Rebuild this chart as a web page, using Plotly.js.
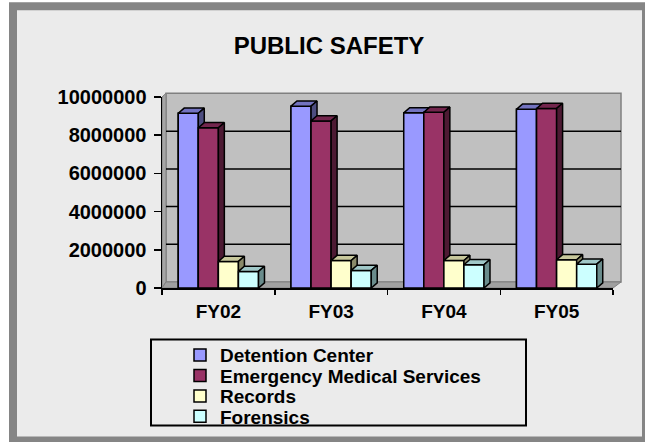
<!DOCTYPE html>
<html>
<head>
<meta charset="utf-8">
<script src="https://cdn.plot.ly/plotly-3.0.1.min.js"></script>
<style>html,body{margin:0;padding:0;background:#fff;}#chart{width:645px;height:442px;}</style>
</head>
<body>
<div id="chart"></div>
<script>
// ---- data ----
const categories = ['FY02', 'FY03', 'FY04', 'FY05'];
const seriesNames = ['Detention Center', 'Emergency Medical Services', 'Records', 'Forensics'];
const detention = [9150000, 9520000, 9170000, 9360000];
const ems = [8390000, 8750000, 9200000, 9400000];
const records = [1390000, 1440000, 1440000, 1480000];
const forensics = [870000, 920000, 1220000, 1250000];
const yTicks = [0, 2000000, 4000000, 6000000, 8000000, 10000000];

// ---- style ----
const FONT = 'Liberation Sans, Arial, sans-serif';
const values = [detention, ems, records, forensics];
const fronts = ['#9999ff', '#993366', '#ffffcc', '#ccffff'];
const tops = ['#7373c0', '#73264d', '#c8c89c', '#a0c8c8'];
const sides = ['#4d4d80', '#4d1a33', '#8a8a6a', '#6a8c8c'];
const W = 0.178;      // bar width (x units)
const DX = 0.053;     // depth, x units
const DY = 270000;    // depth, y units
const legendIds = ['legend', 'legend2', 'legend3', 'legend4'];
const legendRowY = [355.5, 376, 396.5, 417];

const traces = [];
values.forEach((vals, s) => {
  traces.push({
    type: 'bar', name: seriesNames[s], legend: legendIds[s],
    x: categories.map((c, i) => i + (s - 1.5) * W), y: vals, width: W,
    marker: {color: fronts[s], line: {color: '#000', width: 1.5}},
    hoverinfo: 'skip'
  });
});
values.forEach((vals, s) => {
  const f = {x: [], y: []}, t = {x: [], y: []}, d = {x: [], y: []};
  vals.forEach((v, i) => {
    const x0 = i + (s - 2) * W, x1 = x0 + W;
    f.x.push(x0, x1, x1, x0, x0, null); f.y.push(0, 0, v, v, 0, null);
    t.x.push(x0, x1, x1 + DX, x0 + DX, x0, null); t.y.push(v, v, v + DY, v + DY, v, null);
    d.x.push(x1, x1 + DX, x1 + DX, x1, x1, null); d.y.push(0, DY, v + DY, v, 0, null);
  });
  [[f, fronts[s]], [t, tops[s]], [d, sides[s]]].forEach(([p, col]) => {
    traces.push({
      type: 'scatter', mode: 'lines', x: p.x, y: p.y, fill: 'toself', fillcolor: col,
      line: {color: '#000', width: 1.5}, showlegend: false, hoverinfo: 'skip', connectgaps: false
    });
  });
});

// pixel -> paper helpers for decoration
const PL = 162, PR = 613, PT = 97, PB = 288.3;
const px = X => (X - PL) / (PR - PL);
const py = Y => (PB - Y) / (PB - PT);

const shapes = [
  {type: 'rect', xref: 'paper', yref: 'paper', x0: px(9), x1: px(660), y0: py(460), y1: py(2), fillcolor: '#858585', line: {width: 0}, layer: 'below'},
  {type: 'rect', xref: 'paper', yref: 'paper', x0: px(17), x1: px(642), y0: py(437), y1: py(10), fillcolor: '#ebebeb', line: {width: 0}, layer: 'below'},
  // back wall
  {type: 'rect', xref: 'paper', yref: 'paper', x0: px(166), x1: px(621), y0: py(282.3), y1: py(93.3), fillcolor: '#c0c0c0', line: {color: '#808080', width: 1.5}, layer: 'below'},
  // left wall
  {type: 'path', xref: 'paper', yref: 'paper', path: `M ${px(162)} ${py(288.3)} L ${px(166)} ${py(282.3)} L ${px(166)} ${py(93.3)} L ${px(162)} ${py(97)} Z`, fillcolor: '#a6a6a6', line: {color: '#808080', width: 1}, layer: 'below'},
  // floor
  {type: 'path', xref: 'paper', yref: 'paper', path: `M ${px(162)} ${py(288.3)} L ${px(613)} ${py(288.3)} L ${px(621)} ${py(282.3)} L ${px(166)} ${py(282.3)} Z`, fillcolor: '#a0a0a0', line: {color: '#808080', width: 1}, layer: 'below'},
  // legend box
  {type: 'rect', xref: 'paper', yref: 'paper', x0: px(151), x1: px(526), y0: py(426), y1: py(340), fillcolor: 'rgba(0,0,0,0)', line: {color: '#000', width: 2}, layer: 'below'}
];
yTicks.slice(1, -1).forEach(v => {
  const off = 6 - 2.5 * v / 10000000;
  shapes.push({type: 'line', xref: 'paper', yref: 'y', ysizemode: 'pixel', yanchor: v, y0: off, y1: off,
    x0: px(166), x1: px(621), line: {color: '#000', width: 1.5}, layer: 'below'});
});

const layout = {
  width: 645, height: 442,
  margin: {l: PL, r: 645 - PR, t: PT, b: 442 - PB, autoexpand: false},
  paper_bgcolor: '#ffffff', plot_bgcolor: 'rgba(0,0,0,0)',
  showlegend: true, barmode: 'overlay',
  title: {text: 'PUBLIC SAFETY', x: 329 / 645, xref: 'container', xanchor: 'center',
    y: 1 - 46 / 442, yref: 'container', yanchor: 'middle',
    font: {family: FONT, size: 24, color: '#000', weight: 'bold'}},
  xaxis: {
    range: [-0.5, 3.5], tickmode: 'array', tickvals: categories.map((c, i) => i), ticktext: categories,
    ticks: '', ticklabelstandoff: 6, showgrid: false, zeroline: false,
    showline: true, linecolor: '#000', linewidth: 1.5,
    tickfont: {family: FONT, size: 19, color: '#000', weight: 'bold'},
    minor: {tickmode: 'array', tickvals: [-0.5, 0.5, 1.5, 2.5, 3.5], ticks: 'outside', ticklen: 5, tickcolor: '#000', tickwidth: 1.5, showgrid: false},
    fixedrange: true
  },
  yaxis: {
    range: [0, 10000000], tickmode: 'array', tickvals: yTicks, tickformat: 'd',
    ticks: 'outside', ticklen: 7, tickcolor: '#000', tickwidth: 1.5, ticklabelstandoff: 3,
    showgrid: false, zeroline: false, showline: true, linecolor: '#000', linewidth: 1.5,
    tickfont: {family: FONT, size: 20, color: '#000', weight: 'bold'},
    fixedrange: true
  },
  shapes: shapes
};
legendIds.forEach((id, s) => {
  layout[id] = {
    x: px(180), xanchor: 'left', y: py(legendRowY[s]), yanchor: 'middle', orientation: 'v',
    bgcolor: 'rgba(0,0,0,0)', borderwidth: 0,
    font: {family: FONT, size: 19, color: '#000', weight: 'bold'}
  };
});

Plotly.newPlot('chart', traces, layout, {displayModeBar: false, staticPlot: true});
</script>
</body>
</html>
